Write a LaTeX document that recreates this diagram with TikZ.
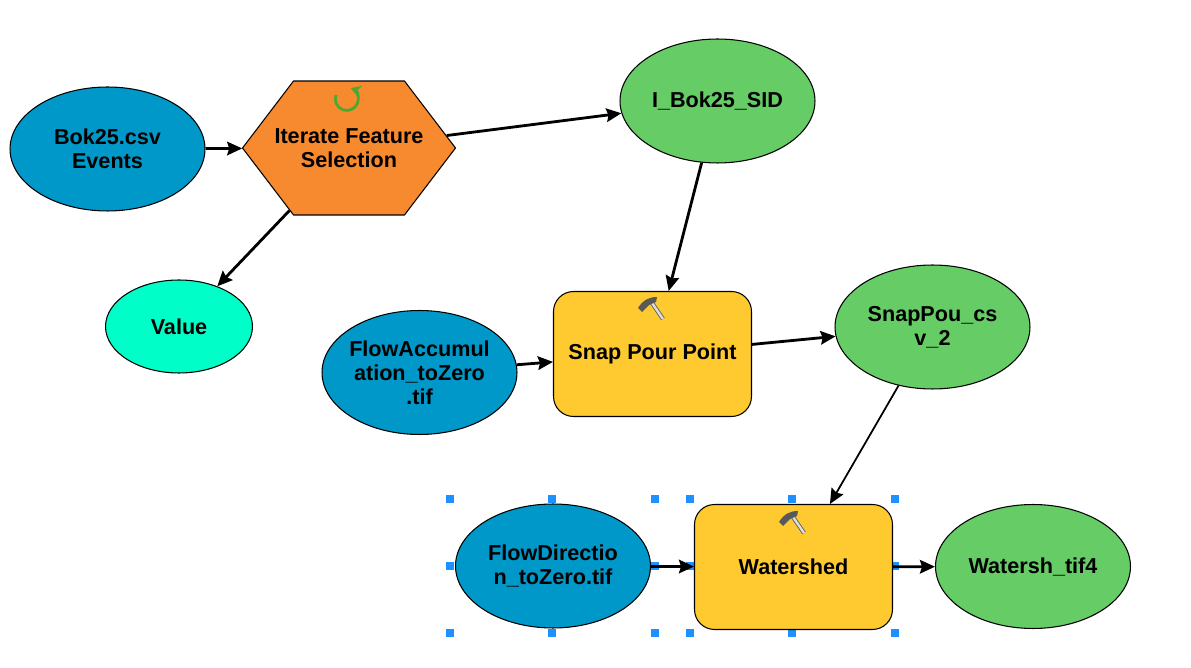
\documentclass[tikz,border=0pt]{standalone}
\usepackage{fontspec}
\setmainfont{Liberation Sans}
\usepackage{xcolor}
\usetikzlibrary{arrows.meta,shapes.geometric,shapes.symbols}
\definecolor{databl}{HTML}{0098C8}
\definecolor{outgr}{HTML}{66CC66}
\definecolor{toolyl}{HTML}{FFCA30}
\definecolor{iterog}{HTML}{F78A2E}
\definecolor{valcy}{HTML}{00FFC8}
\definecolor{handlebl}{HTML}{1E90FF}
\definecolor{loopgr}{HTML}{4FA82E}
\tikzset{
  model/.style={draw=black,line width=0.6pt,inner sep=0pt,align=center,text=black,
    font=\fontsize{12.3}{13.6}\selectfont\bfseries},
  indata/.style={model,ellipse,fill=databl,minimum width=3.9cm,minimum height=2.48cm},
  outdata/.style={model,ellipse,fill=outgr,minimum width=3.9cm,minimum height=2.48cm},
  tool/.style={model,rectangle,rounded corners=0.4cm,fill=toolyl,minimum width=3.96cm,minimum height=2.5cm},
  link/.style={line width=1.6pt,-{Stealth[length=3mm,width=2.7mm,inset=0.4mm]}},
  handle/.style={fill=handlebl,inner sep=0pt,minimum size=0.15cm},
  hammer/.pic={
    \draw[line width=2.4pt,gray!80!black] (0,0)--(11,16);
    \draw[line width=1.3pt,gray!25!white] (0,0)--(11,16);
    \fill[gray!70!black] (-14,5)..controls (-9,-3) and (-3,-6)..(5,-6)--(4,-1)--(-3,2)--(-10,9)--cycle;
  }
}
\begin{document}
\begin{tikzpicture}[>=Stealth,x=0.02cm,y=-0.02cm]
\useasboundingbox (0,0) rectangle (1191,668);
% selection handles
\foreach \hx in {450,552,655,690,792,895}
  \foreach \hy in {499,566,633}
    \node[handle] (h\hx-\hy) at (\hx,\hy) {};
% elements
\node[indata] (events) at (107.5,149) {Bok25.csv\\Events};
\node[model,signal,signal to=east and west,signal pointer angle=105.4,fill=iterog,inner xsep=-0.38cm,minimum height=2.68cm] (iterate) at (349,148) {Iterate Feature\\Selection};
\node[outdata] (sid) at (717.5,101) {I\_Bok25\_SID};
\node[model,ellipse,fill=valcy,minimum width=2.94cm,minimum height=1.86cm] (value) at (179,326.5) {Value};
\node[indata,inner xsep=-5pt] (flowacc) at (419.5,372.5) {FlowAccumul\\ation\_toZero\\.tif};
\node[tool] (snap) at (652.5,354) {Snap Pour Point};
\node[outdata] (snappou) at (932.5,327) {SnapPou\_cs\\v\_2};
\node[indata] (flowdir) at (553,566) {FlowDirectio\\n\_toZero.tif};
\node[tool] (watershed) at (793.5,567) {Watershed};
\node[outdata] (watersh) at (1033,566.5) {Watersh\_tif4};
% connectors
\draw[link] (events)--(iterate);
\draw[link] (iterate)--(sid);
\draw[link] (iterate)--(value);
\draw[link] (sid)--(snap);
\draw[link] (flowacc)--(snap);
\draw[link] (snap)--(snappou);
\draw[link,line width=1pt] (snappou)--(watershed);
\draw[link] (flowdir)--(watershed);
\draw[link] (watershed)--(watersh);
% icons
\draw[line width=1.6pt,loopgr,-{Stealth[length=2mm,width=2.4mm]}] (336,95) arc[start angle=160,end angle=430,radius=0.23cm];
\pic at (652,303) {hammer};
\pic at (793,517) {hammer};
\end{tikzpicture}
\end{document}
